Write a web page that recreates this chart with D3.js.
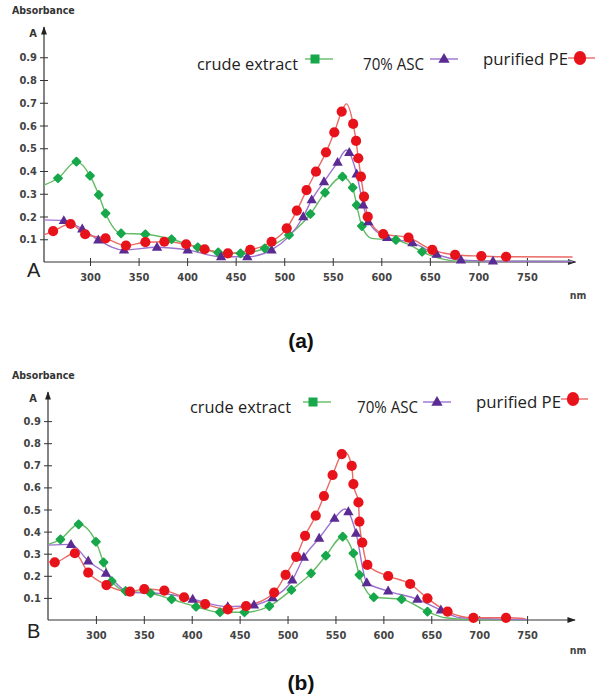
<!DOCTYPE html>
<html><head><meta charset="utf-8">
<script src="https://cdn.jsdelivr.net/npm/d3@7/dist/d3.min.js"></script>
<style>body{margin:0;background:#fff}svg{display:block}</style>
</head><body>
<svg id="c" width="602" height="694"></svg>
<script>
// ---------- data ----------
const seriesNames = ["crude extract", "70% ASC", "purified PE"];
const xTicks = [300, 350, 400, 450, 500, 550, 600, 650, 700, 750];
const yTicks = [0.1, 0.2, 0.3, 0.4, 0.5, 0.6, 0.7, 0.8, 0.9];
const panelLabels = ["A", "B"];
const captions = ["(a)", "(b)"];

// Panel A markers [nm, absorbance]
const aCrude = [[267,0.368],[286,0.441],[300,0.379],[309,0.295],[316,0.214],[332,0.126],[357,0.122],[384,0.10],[411,0.065],[432,0.042],[455,0.038],[480,0.06],[505,0.119],[527,0.211],[542,0.305],[560,0.375],[570.5,0.327],[574.6,0.25],[580,0.158],[615,0.097],[642,0.045]];
const aCrudeLine = [[252.6,0.338],[590,0.104],[629,0.075],[660,0.016],[680,0.004],[797,0.003]];
const aAsc = [[273,0.182],[292,0.145],[308.5,0.097],[335,0.053],[369,0.065],[400.6,0.053],[435,0.023],[462,0.023],[487,0.053],[519.6,0.199],[528.3,0.273],[541,0.353],[555,0.438],[567,0.481],[574.6,0.387],[581.4,0.25],[586.6,0.177],[606,0.108],[632,0.085],[657,0.034],[682,0.009],[715,0.004]];
const aAscLine = [[252.6,0.185],[564,0.492],[797,0.002]];
const aPure = [[262,0.136],[280,0.167],[295,0.122],[316,0.104],[337,0.072],[357,0.087],[376.5,0.089],[399,0.078],[418,0.056],[442,0.038],[465,0.053],[487,0.089],[502.6,0.148],[513,0.226],[523,0.316],[532.7,0.397],[543,0.482],[551.6,0.57],[559.2,0.661],[571,0.607],[574,0.532],[576.3,0.456],[579,0.375],[582.2,0.287],[586,0.199],[602,0.123],[628,0.107],[652.5,0.053],[676,0.031],[703,0.026],[728.5,0.023]];
const aPureLine = [[252.6,0.119],[564,0.695],[797,0.022]];

// Panel B markers [nm, absorbance]
const bCrude = [[263,0.365],[282,0.433],[300,0.354],[308,0.261],[316.5,0.176],[331,0.131],[357,0.121],[379,0.094],[404.5,0.06],[429.5,0.035],[455,0.035],[481,0.063],[504,0.136],[524.5,0.211],[540,0.291],[557.6,0.377],[568.7,0.302],[575,0.204],[590,0.103],[619,0.094],[646,0.038]];
const bCrudeLine = [[250,0.342],[665,0.01],[690,0.002],[750,0.001]];
const bAsc = [[274,0.342],[292,0.267],[310.5,0.211],[401,0.094],[437.6,0.06],[465,0.068],[484.5,0.101],[505,0.181],[517,0.284],[533,0.37],[549,0.46],[563.5,0.49],[571.5,0.392],[582.7,0.169],[605,0.131],[635.5,0.094],[660,0.045]];
const bAscLine = [[250,0.339],[335,0.125],[370,0.12],[560,0.502],[680,0.01],[750,0.002]];
const bPure = [[257,0.261],[278,0.302],[292,0.214],[311,0.158],[335.6,0.128],[350.5,0.14],[371.4,0.133],[392,0.103],[414,0.072],[437.6,0.048],[456.7,0.063],[486,0.124],[498,0.204],[509,0.286],[518.3,0.381],[529.4,0.472],[538,0.561],[547,0.656],[556.6,0.751],[567,0.697],[568.7,0.615],[574,0.532],[575,0.445],[578,0.35],[583.3,0.249],[605,0.199],[628,0.163],[646,0.098],[667,0.038],[694,0.01],[728,0.01]];
const bPureLine = [[250,0.264],[560,0.76],[748,0.006]];

// ---------- styles ----------
const lineColors = ["#63bb63", "#9d72cf", "#ea6a66"];
const markColors = ["#17a84b", "#5a2b92", "#e8121a"];
const tickFont = "'DejaVu Sans Condensed','Liberation Sans Narrow',Arial,sans-serif";
const legFont = "'Open Sans','Noto Sans',sans-serif";
const legWidths = [101, 61, 85];

const svg = d3.select("#c");
const defs = svg.append("defs");
defs.append("marker").attr("id","arr").attr("viewBox","0 0 10 10").attr("refX",9).attr("refY",5)
  .attr("markerWidth",9).attr("markerHeight",7).attr("orient","auto-start-reverse")
  .append("path").attr("d","M0,1.5L10,5L0,8.5Z").attr("fill","#222");

const panels = [
  {x0:252.6, x1:800, left:44, right:575.5, y0:262, y1:34.5, ytop:27, data:[[aCrude,aCrudeLine],[aAsc,aAscLine],[aPure,aPureLine]],
   absY:14, aY:37, bigY:277, nmY:299, capY:348,
   leg:{tx:[197,363,483], ty:[70,70,65], my:[59,59,58], mx:[315,444,580], lx:[[305,333],[430,458],[568,595]]}},
  {x0:250, x1:800, left:48, right:575, y0:620, y1:399, ytop:392, data:[[bCrude,bCrudeLine],[bAsc,bAscLine],[bPure,bPureLine]],
   absY:379, aY:402, bigY:638, nmY:654, capY:690,
   leg:{tx:[190,357,476], ty:[413,413,408], my:[402,402,399], mx:[313,437,573], lx:[[303,331],[423,451],[561,588]]}}
];

function drawMarker(g, k, x, y, s) {
  const c = markColors[k];
  if (k === 0) {
    g.append("path").attr("d", d3.symbol(d3.symbolSquare, 30*s)())
      .attr("transform",`translate(${x},${y}) rotate(45)`).attr("fill",c)
      .attr("stroke",c).attr("stroke-width",2).attr("stroke-linejoin","round");
  } else if (k === 1) {
    g.append("path").attr("d", d3.symbol(d3.symbolTriangle, 46*s)())
      .attr("transform",`translate(${x},${y+0.5})`).attr("fill",c);
  } else {
    g.append("ellipse").attr("cx",x).attr("cy",y).attr("rx",5.1*s).attr("ry",5.1*s*(s>1?1.15:1)).attr("fill",c);
  }
}

panels.forEach((p, pi) => {
  const x = d3.scaleLinear().domain([p.x0, p.x1]).range([p.left, p.right]);
  const y = d3.scaleLinear().domain([0, 1]).range([p.y0, p.y1]);
  const g = svg.append("g");

  g.append("line").attr("x1",p.left).attr("x2",p.right).attr("y1",p.y0).attr("y2",p.y0)
    .attr("stroke","#333").attr("stroke-width",1.2).attr("marker-end","url(#arr)");
  g.append("line").attr("x1",p.left).attr("x2",p.left).attr("y1",p.y0).attr("y2",p.ytop)
    .attr("stroke","#333").attr("stroke-width",1.2).attr("marker-end","url(#arr)");

  const xa = g.append("g").attr("transform",`translate(0,${p.y0})`)
    .call(d3.axisBottom(x).tickValues(xTicks).tickSize(4).tickFormat(d3.format("d")));
  xa.select(".domain").remove();
  xa.selectAll(".tick line").attr("y1",-4).attr("y2",4).attr("stroke","#333");
  xa.selectAll(".tick text").attr("y",11).attr("dy","0.71em").attr("font-family",tickFont)
    .attr("font-size",11).attr("font-weight","bold").attr("fill","#444");

  const ya = g.append("g").attr("transform",`translate(${p.left},0)`)
    .call(d3.axisLeft(y).tickValues(yTicks).tickSize(4).tickFormat(d3.format(".1f")));
  ya.select(".domain").remove();
  ya.selectAll(".tick line").attr("x1",-4).attr("x2",4).attr("stroke","#333");
  ya.selectAll(".tick text").attr("x",-7).attr("font-family",tickFont)
    .attr("font-size",11).attr("font-weight","bold").attr("fill","#444");

  g.append("text").attr("x",12).attr("y",p.absY).text("Absorbance")
    .attr("font-family",tickFont).attr("font-size",10.5).attr("font-weight","bold").attr("fill","#333");
  g.append("text").attr("x",37).attr("y",p.aY).attr("text-anchor","end").text("A")
    .attr("font-family",tickFont).attr("font-size",11).attr("font-weight","bold").attr("fill","#333");
  g.append("text").attr("x",27).attr("y",p.bigY).text(panelLabels[pi])
    .attr("font-family","'Liberation Sans',Arial,sans-serif").attr("font-size",20).attr("fill","#222");
  g.append("text").attr("x",578).attr("y",p.nmY).attr("text-anchor","middle").text("nm")
    .attr("font-family",tickFont).attr("font-size",10.5).attr("font-weight","bold").attr("fill","#444");
  g.append("text").attr("x",301).attr("y",p.capY).attr("text-anchor","middle").text(captions[pi])
    .attr("font-family","'Liberation Sans',Arial,sans-serif").attr("font-size",21).attr("font-weight","bold").attr("fill","#111");

  const line = d3.line().x(d => x(d[0])).y(d => y(d[1])).curve(d3.curveMonotoneX);
  p.data.forEach(([marks, extra], k) => {
    const pts = marks.concat(extra).sort((a,b) => a[0]-b[0]);
    g.append("path").attr("d", line(pts)).attr("fill","none")
      .attr("stroke",lineColors[k]).attr("stroke-width",1.4);
  });
  p.data.forEach(([marks], k) => {
    const mg = g.append("g");
    marks.forEach(d => drawMarker(mg, k, x(d[0]), y(d[1]), 1));
  });

  seriesNames.forEach((name, k) => {
    g.append("text").attr("x",p.leg.tx[k]).attr("y",p.leg.ty[k]).text(name)
      .attr("font-family",legFont).attr("font-size",16).attr("fill","#222")
      .attr("textLength",legWidths[k]).attr("lengthAdjust","spacingAndGlyphs");
    g.append("line").attr("x1",p.leg.lx[k][0]).attr("x2",p.leg.lx[k][1])
      .attr("y1",p.leg.my[k]).attr("y2",p.leg.my[k]).attr("stroke",lineColors[k]).attr("stroke-width",1.4);
    if (k === 0) {
      g.append("rect").attr("x",p.leg.mx[k]-4.5).attr("y",p.leg.my[k]-4.5).attr("width",9).attr("height",9).attr("fill",markColors[0]);
    } else drawMarker(g, k, p.leg.mx[k], p.leg.my[k], 1.2);
  });
});
</script>
</body></html>
